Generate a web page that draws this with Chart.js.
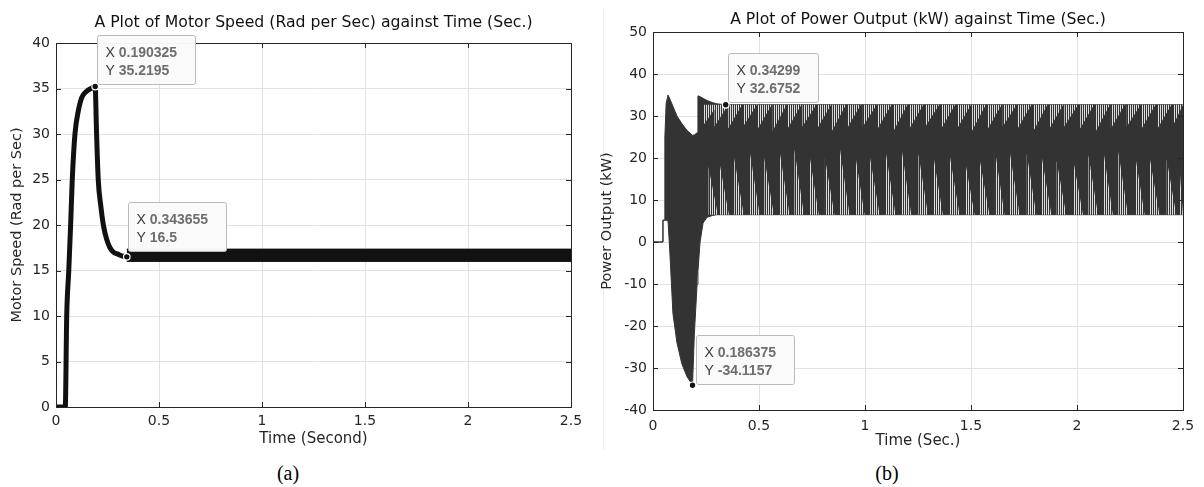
<!DOCTYPE html>
<html>
<head>
<meta charset="utf-8">
<title>Motor speed and power output against time</title>
<script src="https://cdn.jsdelivr.net/npm/chart.js@4.4.1/dist/chart.umd.min.js"></script>
<style>
  body { margin: 0; background: #fff; }
  #page { position: relative; width: 1204px; height: 487px; overflow: hidden; background: #fff; }
  .panel { position: absolute; top: 0; }
  .caption { position: absolute; top: 462px; line-height: 22px; font: 20px "Liberation Serif", "Times New Roman", serif; color: #000; transform: translateX(-50%); }
  #frame { position: absolute; left: 603px; top: 10px; height: 440px; border-left: 1px solid #ececec; }
</style>
</head>
<body>
<div id="page">
  <canvas id="speedChart" class="panel" style="left:0" width="590" height="455"></canvas>
  <div id="frame"></div>
  <canvas id="powerChart" class="panel" style="left:590px" width="614" height="455"></canvas>
  <div class="caption" style="left:288px">(a)</div>
  <div class="caption" style="left:887px">(b)</div>
</div>
<script>
// (a) motor speed, transient part
const speedTime  = [0, 0.02, 0.045, 0.052, 0.062, 0.071, 0.079, 0.092, 0.108, 0.125, 0.149, 0.17, 0.19, 0.197, 0.205, 0.218, 0.23, 0.245, 0.262, 0.28, 0.30, 0.32, 0.343655];
const speedValue = [0, 0, 0, 10, 15, 20, 25, 30, 32.5, 34, 34.7, 35.0, 35.2195, 30, 25, 22, 20, 18.5, 17.5, 17.0, 16.8, 16.6, 16.5];
// steady-state ripple band
const bandTime  = [0.343655, 2.5];
const bandUpper = [17.35, 17.35];
const bandLower = [16.0, 16.0];

// (b) power output envelope (upper / lower edge of the dense trace)
const powerTime  = [0, 0.047, 0.047, 0.056, 0.056, 0.062, 0.071, 0.08, 0.094, 0.113, 0.136, 0.16, 0.186375, 0.195, 0.208, 0.212, 0.222, 0.236, 0.255, 0.28, 0.30, 0.34299, 2.5];
const powerUpper = [0, 0, 5.2, 5.2, 25, 33, 35, 34, 32.3, 30, 28.2, 26.6, 25.4, 25.5, 26, 34.8, 34.6, 34.2, 33.7, 33.2, 32.9, 32.6752, 32.6752];
const powerLower = [0, 0, 5.2, 5.2, 5.2, 5.2, 5, -3, -17, -24, -29, -32, -34.1157, -22, -10, -7, 0, 4.5, 5.9, 6.3, 6.5, 6.5, 6.5];

// sawtooth of light streaks inside the ripple (start time and tip of each tooth)
const lowerToothTime = [0.261, 0.313, 0.383, 0.458, 0.525, 0.599, 0.667, 0.737, 0.811, 0.882, 0.953, 1.024, 1.099, 1.173, 1.252, 1.322,
                        1.401, 1.472, 1.542, 1.613, 1.684, 1.763, 1.834, 1.904, 1.983, 2.054, 2.124, 2.195, 2.274, 2.344, 2.423, 2.486];
const lowerToothPeak = [18, 19, 20, 21, 20, 21, 22, 21, 20, 22, 21, 20, 21, 22, 21, 20.7,
                        20.2, 19.3, 19.3, 21.9, 21, 21, 20.2, 19.3, 19.3, 20.7, 21.9, 21.5, 20.7, 19.7, 19.7, 16];
const upperToothTime = [0.24, 0.29, 0.355, 0.425, 0.495, 0.565, 0.635, 0.705, 0.775, 0.845, 0.915, 0.99, 1.06, 1.135, 1.21, 1.285,
                        1.36, 1.435, 1.505, 1.58, 1.65, 1.72, 1.795, 1.87, 1.94, 2.015, 2.09, 2.16, 2.235, 2.305, 2.38, 2.455];
const upperToothDip  = [28, 27.5, 27, 27.5, 27, 26.5, 27, 27.5, 27, 26.5, 27, 27.5, 27, 26.5, 27, 27.5,
                        27, 27, 26.5, 27, 27.5, 27, 26.5, 27, 27.5, 27, 26.5, 27, 27.5, 27, 27, 28];

const timeTicks  = [0, 0.5, 1, 1.5, 2, 2.5];
const speedTicks = [0, 5, 10, 15, 20, 25, 30, 35, 40];
const powerTicks = [-40, -30, -20, -10, 0, 10, 20, 30, 40, 50];

const speedTips = [{ x: 0.190325, y: 35.2195 }, { x: 0.343655, y: 16.5 }];
const powerTips = [{ x: 0.34299, y: 32.6752 }, { x: 0.186375, y: -34.1157 }];

const FONT = '"DejaVu Sans", Verdana, sans-serif';
const TIP_FONT = '"Liberation Sans", Arial, sans-serif';
Chart.defaults.font.family = FONT;
Chart.defaults.color = '#262626';

const pts = (xs, ys) => xs.map((t, i) => ({ x: t, y: ys[i] }));

// teeth: vertical edge at the start, slope back to the base line
function teeth(times, tips, base, fall) {
  const out = [];
  times.forEach((t, i) => {
    out.push({ x: t, y: base }, { x: t, y: tips[i] }, { x: Math.min(t + fall, 2.5), y: base });
  });
  return out;
}

// thin vertical light/dark streaks
function streaks() {
  const c = document.createElement('canvas');
  c.width = 2;
  c.height = 1;
  const g = c.getContext('2d');
  g.fillStyle = '#333';
  g.fillRect(0, 0, 2, 1);
  g.fillStyle = '#dedede';
  g.fillRect(0, 0, 1, 1);
  return g.createPattern(c, 'repeat');
}

// title centred over the plot box, not the whole canvas
const areaTitle = {
  id: 'areaTitle',
  afterDraw(chart, args, opts) {
    const { ctx, chartArea: a } = chart;
    ctx.save();
    ctx.font = '15.7px ' + FONT;
    ctx.fillStyle = '#111';
    ctx.textAlign = 'center';
    ctx.textBaseline = 'middle';
    ctx.fillText(opts.text, (a.left + a.right) / 2, opts.y);
    ctx.restore();
  }
};

// matlab style box with inward ticks on all sides
const boxAxes = {
  id: 'boxAxes',
  afterDatasetsDraw(chart) {
    const { ctx, chartArea: a, scales: { x, y } } = chart;
    ctx.save();
    ctx.strokeStyle = '#262626';
    ctx.lineWidth = 1;
    ctx.strokeRect(a.left + 0.5, a.top + 0.5, a.right - a.left, a.bottom - a.top);
    ctx.beginPath();
    x.ticks.forEach(t => {
      const px = Math.round(x.getPixelForValue(t.value)) + 0.5;
      ctx.moveTo(px, a.bottom); ctx.lineTo(px, a.bottom - 5);
      ctx.moveTo(px, a.top); ctx.lineTo(px, a.top + 5);
    });
    y.ticks.forEach(t => {
      const py = Math.round(y.getPixelForValue(t.value)) + 0.5;
      ctx.moveTo(a.left, py); ctx.lineTo(a.left + 5, py);
      ctx.moveTo(a.right, py); ctx.lineTo(a.right - 5, py);
    });
    ctx.stroke();
    ctx.restore();
  }
};

// data tips like the matlab figure
const datatips = {
  id: 'datatips',
  afterDatasetsDraw(chart, args, opts) {
    const { ctx, scales: { x, y } } = chart;
    ctx.save();
    opts.tips.forEach((tip, i) => {
      const px = x.getPixelForValue(tip.x);
      const py = y.getPixelForValue(tip.y);
      const lines = [['X', String(tip.x)], ['Y', String(tip.y)]];
      ctx.font = '14px ' + TIP_FONT;
      const labelW = ctx.measureText('X ').width;
      ctx.font = 'bold 14px ' + TIP_FONT;
      const valueW = Math.max(...lines.map(l => ctx.measureText(l[1]).width));
      const w = Math.round(labelW + valueW + 26);
      const h = 49;
      const [dx, dy] = opts.offsets[i];
      const bx = Math.round(px + dx) + 0.5;
      const by = Math.round(py + dy - h) + 0.5;
      ctx.fillStyle = 'rgba(250,250,250,0.97)';
      ctx.strokeStyle = '#b9b9b9';
      ctx.lineWidth = 1;
      ctx.beginPath();
      ctx.roundRect(bx, by, w, h, 2);
      ctx.fill();
      ctx.stroke();
      ctx.textBaseline = 'middle';
      lines.forEach((l, k) => {
        const ty = by + 18 + k * 18;
        ctx.font = '14px ' + TIP_FONT;
        ctx.fillStyle = '#3a3a3a';
        ctx.fillText(l[0], bx + 8, ty);
        ctx.font = 'bold 14px ' + TIP_FONT;
        ctx.fillStyle = '#6e6e6e';
        ctx.fillText(l[1], bx + 8 + labelW, ty);
      });
      ctx.beginPath();
      ctx.arc(px, py, 3.3, 0, Math.PI * 2);
      ctx.fillStyle = '#111';
      ctx.fill();
      ctx.strokeStyle = '#fff';
      ctx.lineWidth = 1.2;
      ctx.stroke();
    });
    ctx.restore();
  }
};

function makeOptions(cfg) {
  return {
    responsive: false,
    animation: false,
    devicePixelRatio: 1,
    layout: { padding: { left: 0, right: cfg.padRight, top: cfg.padTop, bottom: 0 } },
    plugins: {
      legend: { display: false },
      tooltip: { enabled: false },
      title: { display: false },
      areaTitle: { text: cfg.title, y: cfg.titleY },
      datatips: { tips: cfg.tips, offsets: cfg.tipOffsets }
    },
    scales: {
      x: {
        type: 'linear',
        min: 0,
        max: 2.5,
        afterBuildTicks: s => { s.ticks = timeTicks.map(v => ({ value: v })); },
        afterFit: s => { s.height = cfg.xHeight; },
        grid: { color: '#e2e2e2', drawTicks: false },
        border: { display: false },
        ticks: { font: { size: 14 }, padding: cfg.xTickPad, maxRotation: 0, color: '#262626', callback: v => String(v) },
        title: { display: true, text: cfg.xTitle, font: { size: 15 }, color: '#262626', padding: { top: 0, bottom: cfg.xTitlePad } }
      },
      y: {
        type: 'linear',
        min: cfg.yMin,
        max: cfg.yMax,
        afterBuildTicks: s => { s.ticks = cfg.yTicks.map(v => ({ value: v })); },
        afterFit: s => { s.width = cfg.yWidth; },
        grid: { color: '#e2e2e2', drawTicks: false },
        border: { display: false },
        ticks: { font: { size: 14 }, padding: 6, color: '#262626', callback: v => String(v) },
        title: { display: true, text: cfg.yTitle, font: { size: 14.5 }, color: '#262626', padding: { top: cfg.yTitlePad, bottom: 0 } }
      }
    }
  };
}

window.onload = () => {
  new Chart(document.querySelector('#speedChart'), {
    type: 'line',
    data: {
      datasets: [
        {
          data: pts(speedTime, speedValue),
          borderColor: '#111',
          borderWidth: 5,
          borderCapStyle: 'round',
          borderJoinStyle: 'round',
          cubicInterpolationMode: 'monotone',
          pointRadius: 0,
          fill: false
        },
        {
          data: pts(bandTime, bandUpper),
          borderColor: '#111',
          backgroundColor: '#111',
          borderWidth: 1,
          pointRadius: 0,
          fill: '+1'
        },
        {
          data: pts(bandTime, bandLower),
          borderColor: '#111',
          borderWidth: 1,
          pointRadius: 0,
          fill: false
        }
      ]
    },
    options: makeOptions({
      title: 'A Plot of Motor Speed (Rad per Sec) against Time (Sec.)',
      titleY: 23,
      padTop: 43,
      padRight: 19,
      xHeight: 48,
      xTickPad: 6,
      xTitle: 'Time (Second)',
      xTitlePad: 7,
      yMin: 0,
      yMax: 40,
      yTicks: speedTicks,
      yWidth: 56,
      yTitle: 'Motor Speed (Rad per Sec)',
      yTitlePad: 9,
      tips: speedTips,
      tipOffsets: [[2, -3], [1, -6]]
    }),
    plugins: [boxAxes, datatips, areaTitle]
  });

  const streak = streaks();
  new Chart(document.querySelector('#powerChart'), {
    type: 'line',
    data: {
      datasets: [
        {
          data: pts(powerTime, powerUpper),
          borderColor: '#333',
          backgroundColor: '#333',
          borderWidth: 1,
          pointRadius: 0,
          fill: '+1',
          order: 2
        },
        {
          data: pts(powerTime, powerLower),
          borderColor: '#333',
          borderWidth: 1,
          pointRadius: 0,
          fill: false,
          order: 2
        },
        {
          data: teeth(lowerToothTime, lowerToothPeak, 6.5, 0.045),
          borderWidth: 0,
          backgroundColor: streak,
          pointRadius: 0,
          fill: { value: 6.5 },
          order: 1
        },
        {
          data: teeth(upperToothTime, upperToothDip, 32.6752, 0.065),
          borderWidth: 0,
          backgroundColor: streak,
          pointRadius: 0,
          fill: { value: 32.6752 },
          order: 1
        }
      ]
    },
    options: makeOptions({
      title: 'A Plot of Power Output (kW) against Time (Sec.)',
      titleY: 20,
      padTop: 32,
      padRight: 21,
      xHeight: 45,
      xTickPad: 8,
      xTitle: 'Time (Sec.)',
      xTitlePad: 5,
      yMin: -40,
      yMax: 50,
      yTicks: powerTicks,
      yWidth: 63,
      yTitle: 'Power Output (kW)',
      yTitlePad: 9,
      tips: powerTips,
      tipOffsets: [[2, -3], [3, -1]]
    }),
    plugins: [boxAxes, datatips, areaTitle]
  });
};
</script>
</body>
</html>
